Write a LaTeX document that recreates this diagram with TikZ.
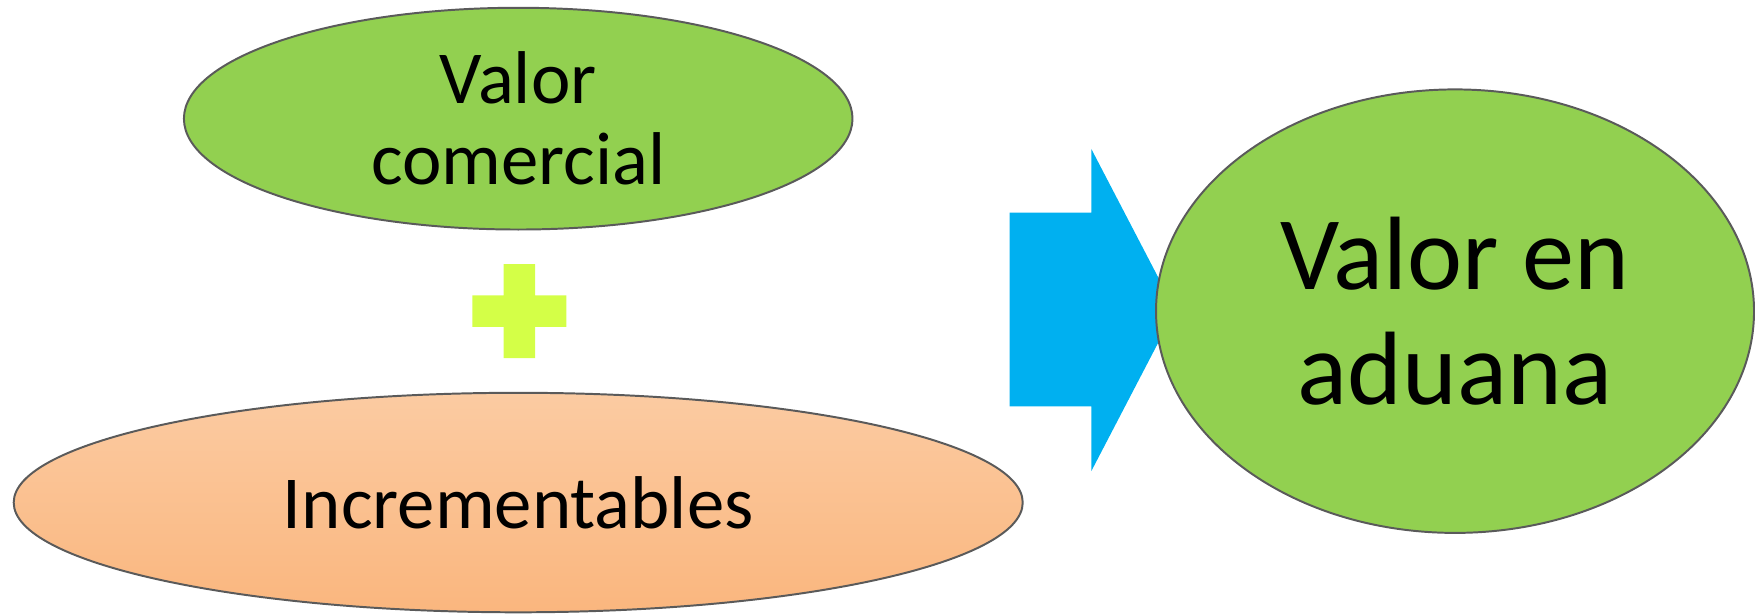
\documentclass[tikz,border=0pt]{standalone}
\usepackage{fontspec}
\setmainfont{Carlito}
\usetikzlibrary{shapes.geometric}
\definecolor{officegreen}{RGB}{146,208,80}
\definecolor{peachtop}{RGB}{251,203,162}
\definecolor{peachbot}{RGB}{250,182,126}
\definecolor{arrowblue}{RGB}{0,176,240}
\definecolor{plusgreen}{RGB}{212,255,71}
\definecolor{edge}{RGB}{90,90,90}
\tikzset{
  blob/.style={ellipse, draw=edge, line width=0.5pt, inner sep=0pt},
  smalltxt/.style={align=center, font=\fontsize{19}{20.5}\selectfont, inner sep=0pt},
  bigtxt/.style={align=center, font=\fontsize{26.5}{29.3}\selectfont, inner sep=0pt},
}
\begin{document}
\begin{tikzpicture}[x=0.01cm, y=-0.01cm]
\useasboundingbox (0,0) rectangle (1568,548);
% top ellipse
\node[blob, fill=officegreen, minimum width=5.97cm, minimum height=1.98cm] (vc) at (463,106) {};
\node[smalltxt] (vctxt) at (vc.center) {Valor\\comercial};
% plus sign
\fill[plusgreen] (450,236) -- (478,236) -- (478,264) -- (506,264) -- (506,292) -- (478,292)
  -- (478,320) -- (450,320) -- (450,292) -- (422,292) -- (422,264) -- (450,264) -- cycle;
% bottom ellipse
\node[blob, top color=peachtop, bottom color=peachbot, minimum width=9.01cm, minimum height=1.96cm] (inc) at (463,449) {};
\node[smalltxt] (inctxt) at (inc.center) {Incrementables};
% arrow
\fill[arrowblue] (902,190) -- (975,190) -- (975,133) -- (1050,277) -- (975,421) -- (975,363) -- (902,363) -- cycle;
% result ellipse
\node[blob, fill=officegreen, minimum width=5.34cm, minimum height=3.96cm] (va) at (1300,278) {};
\node[bigtxt] (vatxt) at (va.center) {Valor en\\aduana};
\end{tikzpicture}
\end{document}
